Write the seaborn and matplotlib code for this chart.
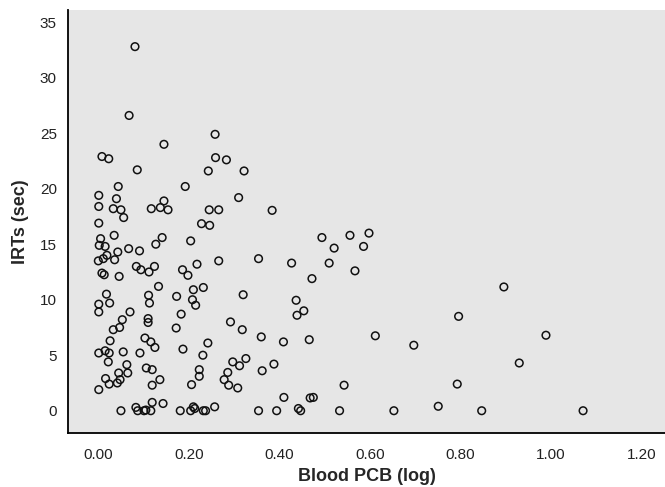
import matplotlib
matplotlib.use("Agg")
import matplotlib.pyplot as plt
import seaborn as sns
import pandas as pd
from matplotlib import font_manager

pcb = [0.081, 0.068, 0.258, 0.145, 0.008, 0.023, 0.259, 0.283, 0.086, 0.243,
       0.322, 0.044, 0.192, 0.001, 0.040, 0.310, 0.145, 0.001, 0.033, 0.050,
       0.117, 0.137, 0.154, 0.245, 0.266, 0.384, 0.056, 0.001, 0.228, 0.246,
       0.598, 0.035, 0.556, 0.494, 0.141, 0.005, 0.204, 0.127, 0.002, 0.015,
       0.586, 0.521, 0.067, 0.091, 0.043, 0.019, 0.354, 0.011, 0.036, 0.000,
       0.266, 0.427, 0.510, 0.218, 0.084, 0.124, 0.094, 0.186, 0.567, 0.112,
       0.008, 0.013, 0.198, 0.046, 0.472, 0.133, 0.896, 0.232, 0.210, 0.018,
       0.320, 0.111, 0.173, 0.208, 0.437, 0.025, 0.113, 0.001, 0.215, 0.454,
       0.001, 0.070, 0.183, 0.439, 0.796, 0.110, 0.053, 0.110, 0.292, 0.047,
       0.172, 0.033, 0.318, 0.989, 0.612, 0.360, 0.103, 0.466, 0.026, 0.116,
       0.409, 0.242, 0.697, 0.125, 0.187, 0.015, 0.055, 0.024, 0.001, 0.092,
       0.231, 0.326, 0.022, 0.297, 0.930, 0.388, 0.063, 0.312, 0.106, 0.119,
       0.223, 0.362, 0.286, 0.045, 0.065, 0.223, 0.016, 0.048, 0.136, 0.278,
       0.042, 0.024, 0.793, 0.206, 0.119, 0.288, 0.543, 0.308, 0.001, 0.410,
       0.468, 0.475, 0.119, 0.143, 0.751, 0.210, 0.257, 0.083, 0.213, 0.442,
       0.105, 0.050, 0.087, 0.101, 0.116, 0.181, 0.204, 0.232, 0.237, 0.354,
       0.394, 0.447, 0.533, 0.653, 0.847, 1.071]

irt = [32.8, 26.6, 24.9, 24.0, 22.9, 22.7, 22.8, 22.6, 21.7, 21.6,
       21.6, 20.2, 20.2, 19.4, 19.1, 19.2, 18.9, 18.4, 18.2, 18.1,
       18.2, 18.3, 18.1, 18.1, 18.1, 18.05, 17.4, 16.9, 16.85, 16.7,
       16.0, 15.8, 15.8, 15.6, 15.6, 15.5, 15.3, 15.0, 14.9, 14.8,
       14.8, 14.65, 14.6, 14.4, 14.3, 14.0, 13.7, 13.7, 13.6, 13.5,
       13.5, 13.3, 13.3, 13.2, 13.0, 13.0, 12.7, 12.7, 12.6, 12.5,
       12.4, 12.25, 12.2, 12.1, 11.9, 11.2, 11.15, 11.1, 10.9, 10.5,
       10.45, 10.4, 10.3, 10.0, 9.95, 9.7, 9.7, 9.6, 9.5, 9.0,
       8.9, 8.9, 8.7, 8.6, 8.5, 8.3, 8.2, 7.95, 8.0, 7.5,
       7.45, 7.3, 7.3, 6.8, 6.75, 6.65, 6.55, 6.4, 6.3, 6.2,
       6.2, 6.1, 5.9, 5.7, 5.55, 5.4, 5.3, 5.2, 5.2, 5.2,
       5.0, 4.7, 4.4, 4.4, 4.3, 4.2, 4.15, 4.05, 3.85, 3.7,
       3.7, 3.6, 3.45, 3.4, 3.4, 3.1, 2.9, 2.8, 2.8, 2.8,
       2.5, 2.4, 2.4, 2.35, 2.3, 2.3, 2.3, 2.05, 1.9, 1.2,
       1.15, 1.2, 0.75, 0.65, 0.4, 0.35, 0.35, 0.3, 0.2, 0.2,
       0.06, 0.0, 0.0, 0.0, 0.0, 0.0, 0.0, 0.0, 0.0, 0.0,
       0.0, 0.0, 0.0, 0.0, 0.0, 0.0]

x_ticks = [0.0, 0.2, 0.4, 0.6, 0.8, 1.0, 1.2]
y_ticks = [0, 5, 10, 15, 20, 25, 30, 35]
x_label = "Blood PCB (log)"
y_label = "IRTs (sec)"

df = pd.DataFrame({"pcb": pcb, "irt": irt})

sns.set_style("white")
names = {f.name for f in font_manager.fontManager.ttflist}
fam = "Liberation Sans Narrow" if "Liberation Sans Narrow" in names else "Liberation Sans"
plt.rcParams["font.family"] = [fam, "DejaVu Sans"]

fig = plt.figure(figsize=(6.65, 4.87), dpi=100)
ax = fig.add_axes([68 / 665, 1 - 432.7 / 487, 1 - 68 / 665, (432.7 - 10) / 487])
ax.set_facecolor("#e6e6e6")

sns.scatterplot(data=df, x="pcb", y="irt", ax=ax, marker="o", s=30,
                facecolor="none", edgecolor="#111111", linewidth=1.1)

ax.set_xlim(-0.067, 1.252)
ax.set_ylim(-1.98, 36.1)
ax.set_xticks(x_ticks)
ax.set_xticklabels([f"{t:.2f}" for t in x_ticks])
ax.set_yticks(y_ticks)
ax.set_yticklabels([str(t) for t in y_ticks])

for side in ("top", "right"):
    ax.spines[side].set_visible(False)
for side in ("left", "bottom"):
    ax.spines[side].set_color("black")
    ax.spines[side].set_linewidth(1.3)

ax.tick_params(axis="both", direction="out", length=5, width=1.3,
               color="#333333", labelsize=11, labelcolor="#222222", pad=3)
ax.tick_params(axis="x", pad=6)

ax.set_xlabel(x_label, fontsize=13, fontweight="bold", labelpad=4)
ax.set_ylabel(y_label, fontsize=13, fontweight="bold", labelpad=8)

fig.savefig("out.png", dpi=100)
